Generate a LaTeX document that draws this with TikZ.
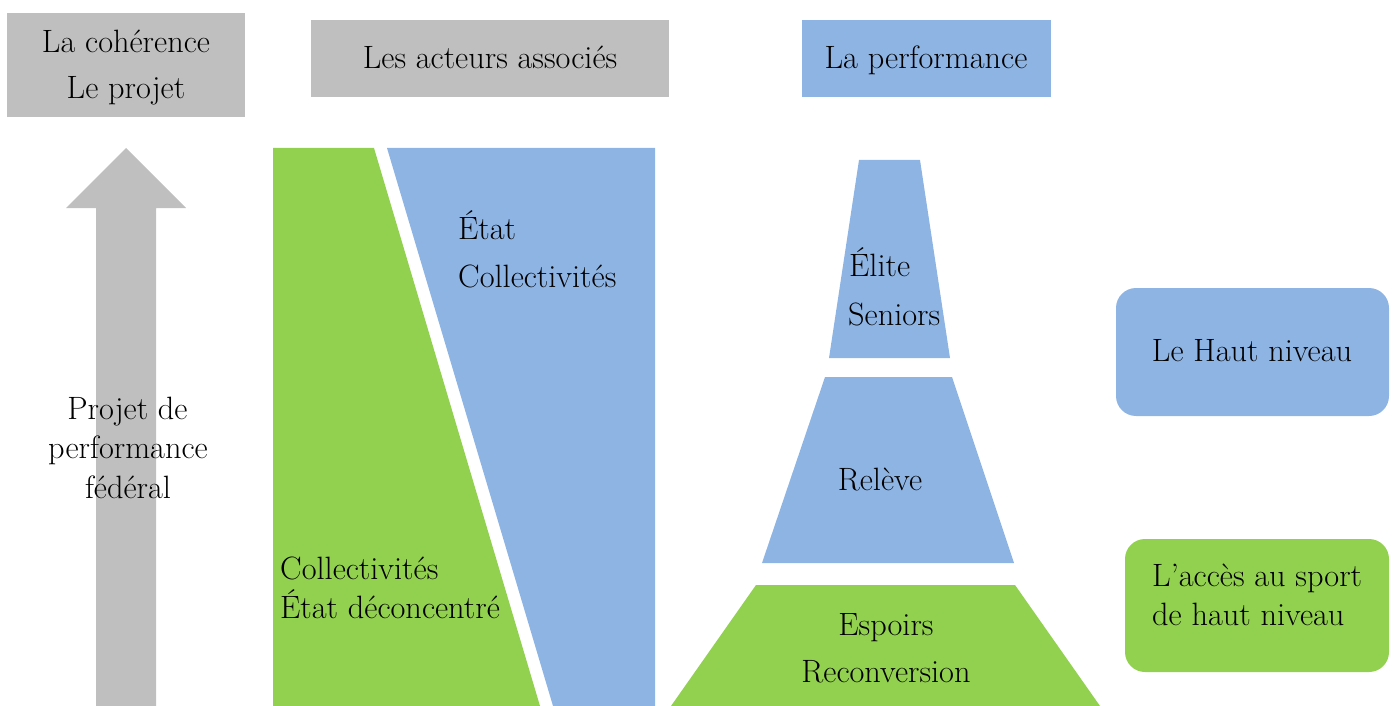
\documentclass[tikz,border=0pt]{standalone}
\usepackage{tikz}
\definecolor{cgray}{HTML}{BFBFBF}
\definecolor{cblue}{HTML}{8EB4E3}
\definecolor{cgreen}{HTML}{92D050}
\tikzset{
  txt/.style={font=\fontsize{32.3}{38}\selectfont, inner sep=0pt, anchor=base, text=black},
  txtl/.style={txt, anchor=base west}
}
\begin{document}
\begin{tikzpicture}[x=1pt,y=-1pt]
\useasboundingbox (0,0) rectangle (1395,706);
% top boxes
\fill[cgray] (7,13) rectangle (245,117);
\fill[cgray] (311,20) rectangle (669,97);
\fill[cblue] (802,20) rectangle (1051,97);
% arrow
\fill[cgray] (126,148) -- (186,208) -- (156,208) -- (156,706) -- (96,706) -- (96,208) -- (66,208) -- cycle;
% actors
\fill[cgreen] (273,148) -- (374,148) -- (540,706) -- (273,706) -- cycle;
\fill[cblue] (387,148) -- (655,148) -- (655,706) -- (553,706) -- cycle;
% pyramid
\fill[cblue] (859,160) -- (920,160) -- (950,358) -- (829,358) -- cycle;
\fill[cblue] (825,377) -- (952,377) -- (1014,563) -- (762,563) -- cycle;
\fill[cgreen] (756,585) -- (1015,585) -- (1100,706) -- (671,706) -- cycle;
% right boxes
\fill[cblue, rounded corners=20pt] (1116,288) rectangle (1389,416);
\fill[cgreen, rounded corners=20pt] (1125,539) rectangle (1389,672);
% texts
\node[txt] (t1a) at (126,53) {La cohérence};
\node[txt] (t1b) at (126,98.5) {Le projet};
\node[txt] (t2) at (490,69) {Les acteurs associés};
\node[txt] (t3) at (926,69) {La performance};
\node[txt] (a1) at (127.5,419) {Projet de};
\node[txt] (a2) at (128,458.5) {performance};
\node[txt] (a3) at (128,498) {fédéral};
\node[txtl] (b1) at (458,239.5) {État};
\node[txtl] (b2) at (458,287.5) {Collectivités};
\node[txtl] (g1) at (280,579.5) {Collectivités};
\node[txtl] (g2) at (280,618.5) {État déconcentré};
\node[txtl] (e1) at (849,276.5) {Élite};
\node[txtl] (e2) at (848,325) {Seniors};
\node[txt] (r1) at (880,490.5) {Relève};
\node[txt] (s1) at (886,635) {Espoirs};
\node[txt] (s2) at (886,682.5) {Reconversion};
\node[txt] (h1) at (1252,361.5) {Le Haut niveau};
\node[txtl] (h2) at (1152,586.5) {L’accès au sport};
\node[txtl] (h3) at (1152,625) {de haut niveau};
\end{tikzpicture}
\end{document}
